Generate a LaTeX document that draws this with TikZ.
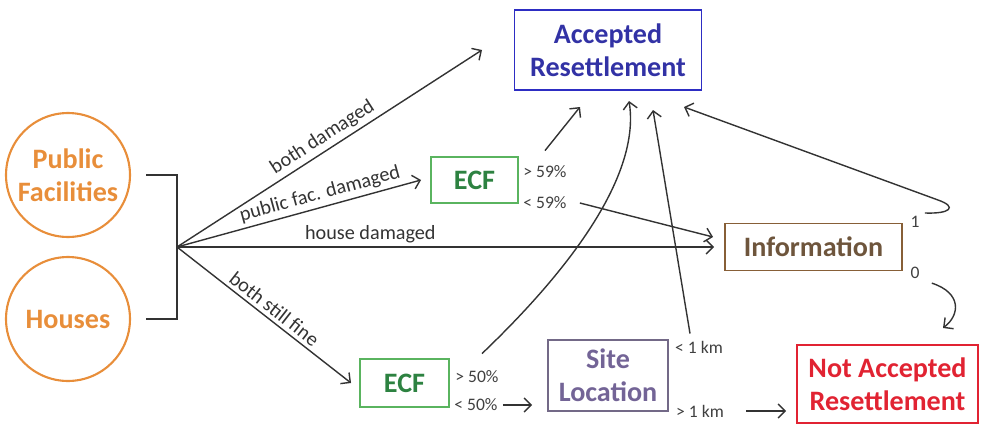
\documentclass[tikz,border=0pt]{standalone}
\usepackage{fontspec}
\setmainfont{Carlito}
\usetikzlibrary{arrows.meta}
\definecolor{pforange}{RGB}{232,142,58}
\definecolor{ecfline}{RGB}{90,180,95}
\definecolor{ecftext}{RGB}{45,130,65}
\definecolor{accblue}{RGB}{45,45,195}
\definecolor{acctext}{RGB}{50,50,165}
\definecolor{infoline}{RGB}{135,95,55}
\definecolor{infotext}{RGB}{110,85,60}
\definecolor{siteline}{RGB}{115,105,135}
\definecolor{sitetext}{RGB}{115,100,150}
\definecolor{notred}{RGB}{225,35,50}
\tikzset{my circle/.style={draw=pforange, line width=1.2pt, circle, minimum size=2.48cm, inner sep=0pt, align=center, text=pforange, font=\fontsize{16}{19}\selectfont\bfseries},
my box/.style={draw, line width=1.1pt, rectangle, inner sep=0pt, align=center, font=\fontsize{16}{19}\selectfont\bfseries},
my arrow/.style={draw=black!80, line width=0.8pt, -{Straight Barb[length=4pt,width=8pt]}},
my label/.style={text=black!80, font=\fontsize{11.5}{13}\selectfont, inner sep=2pt},
my small/.style={text=black!75, font=\fontsize{10}{12}\selectfont, inner sep=0pt},}

\begin{document}
\begin{tikzpicture}[x=0.02cm, y=-0.02cm]
\useasboundingbox (0,0) rectangle (981,426);
\node [my circle] (pub) at (68,175) {Public\\Facilities};
\node [my circle] (hou) at (68,319) {Houses};
\node [my box, draw=accblue, text=acctext, minimum width=3.74cm, minimum height=1.6cm] (acc) at (608,50) {Accepted\\Resettlement};
\node [my box, draw=ecfline, text=ecftext, minimum width=1.74cm, minimum height=0.92cm] (ecfA) at (474.5,180) {ECF};
\node [my box, draw=infoline, text=infotext, minimum width=3.54cm, minimum height=0.94cm] (info) at (813.5,247) {Information};
\node [my box, draw=ecfline, text=ecftext, minimum width=1.78cm, minimum height=0.96cm] (ecfB) at (404.5,383) {ECF};
\node [my box, draw=siteline, text=sitetext, minimum width=2.4cm, minimum height=1.42cm] (site) at (608,375.5) {Site\\Location};
\node [my box, draw=notred, text=notred, minimum width=3.62cm, minimum height=1.56cm] (notacc) at (887.5,384) {Not Accepted\\Resettlement};
\node [my small] (gtA) at (545,172) {> 59\%};
\node [my small] (ltA) at (545,203) {< 59\%};
\node [my small] (gtB) at (477,377) {> 50\%};
\node [my small] (ltB) at (476,405) {< 50\%};
\node [my small] (ltkm) at (699,347) {< 1 km};
\node [my small] (gtkm) at (700,411) {> 1 km};
\node [my small] (one) at (915,222) {1};
\node [my small] (zero) at (915,273) {0};
\coordinate (hub) at (177,247);
\coordinate (tipBoth) at (482,50);
\coordinate (tipA) at (580,107);
\coordinate (tipB) at (629,101);
\coordinate (tipC) at (653,110);
\coordinate (tipD) at (684,107);
\coordinate (tipE) at (943,328);
\draw [line width=0.9pt, black!80] ([xshift=0.3cm]pub.east) -| (hub) |- ([xshift=0.3cm]hou.east);
\draw [my arrow] (hub) -- node [my label, above, sloped] {both damaged} (tipBoth);
\draw [my arrow] (hub) -- node [my label, above, sloped, pos=0.6] {public fac. damaged} ([xshift=-0.18cm]ecfA.west);
\draw [my arrow] (hub) -- node [my label, above, pos=0.36] {house damaged} ([xshift=-0.2cm]info.west);
\draw [my arrow] (hub) -- node [my label, above, sloped, pos=0.52] {both still fine} ([xshift=-0.16cm]ecfB.west);
\draw [my arrow] ([yshift=0.3cm]gtA.north) -- (tipA);
\draw [my arrow] ([xshift=0.26cm]ltA.east) -- ([xshift=-0.22cm, yshift=0.2cm]info.west);
\draw [my arrow] ([shift={(0.1cm,0.34cm)}]gtB.north) .. controls (580,260) and (640,170) .. (tipB);
\draw [my arrow] ([shift={(-0.18cm,0.14cm)}]ltkm.north) -- (tipC);
\draw [my arrow] ([shift={(0.1cm,0.06cm)}]one.north east) .. controls (950,214) and (958,207) .. (938,200) -- (tipD);
\draw [my arrow] ([shift={(0.24cm,-0.08cm)}]zero.south east) .. controls (962,293) and (960,315) .. (tipE);
\draw [my arrow] ([xshift=0.1cm]ltB.east) -- ([xshift=-0.3cm]site.west |- ltB.east);
\draw [my arrow] ([xshift=0.44cm]gtkm.east) -- ([xshift=-0.2cm]notacc.west |- gtkm.east);
\end{tikzpicture}
\end{document}
